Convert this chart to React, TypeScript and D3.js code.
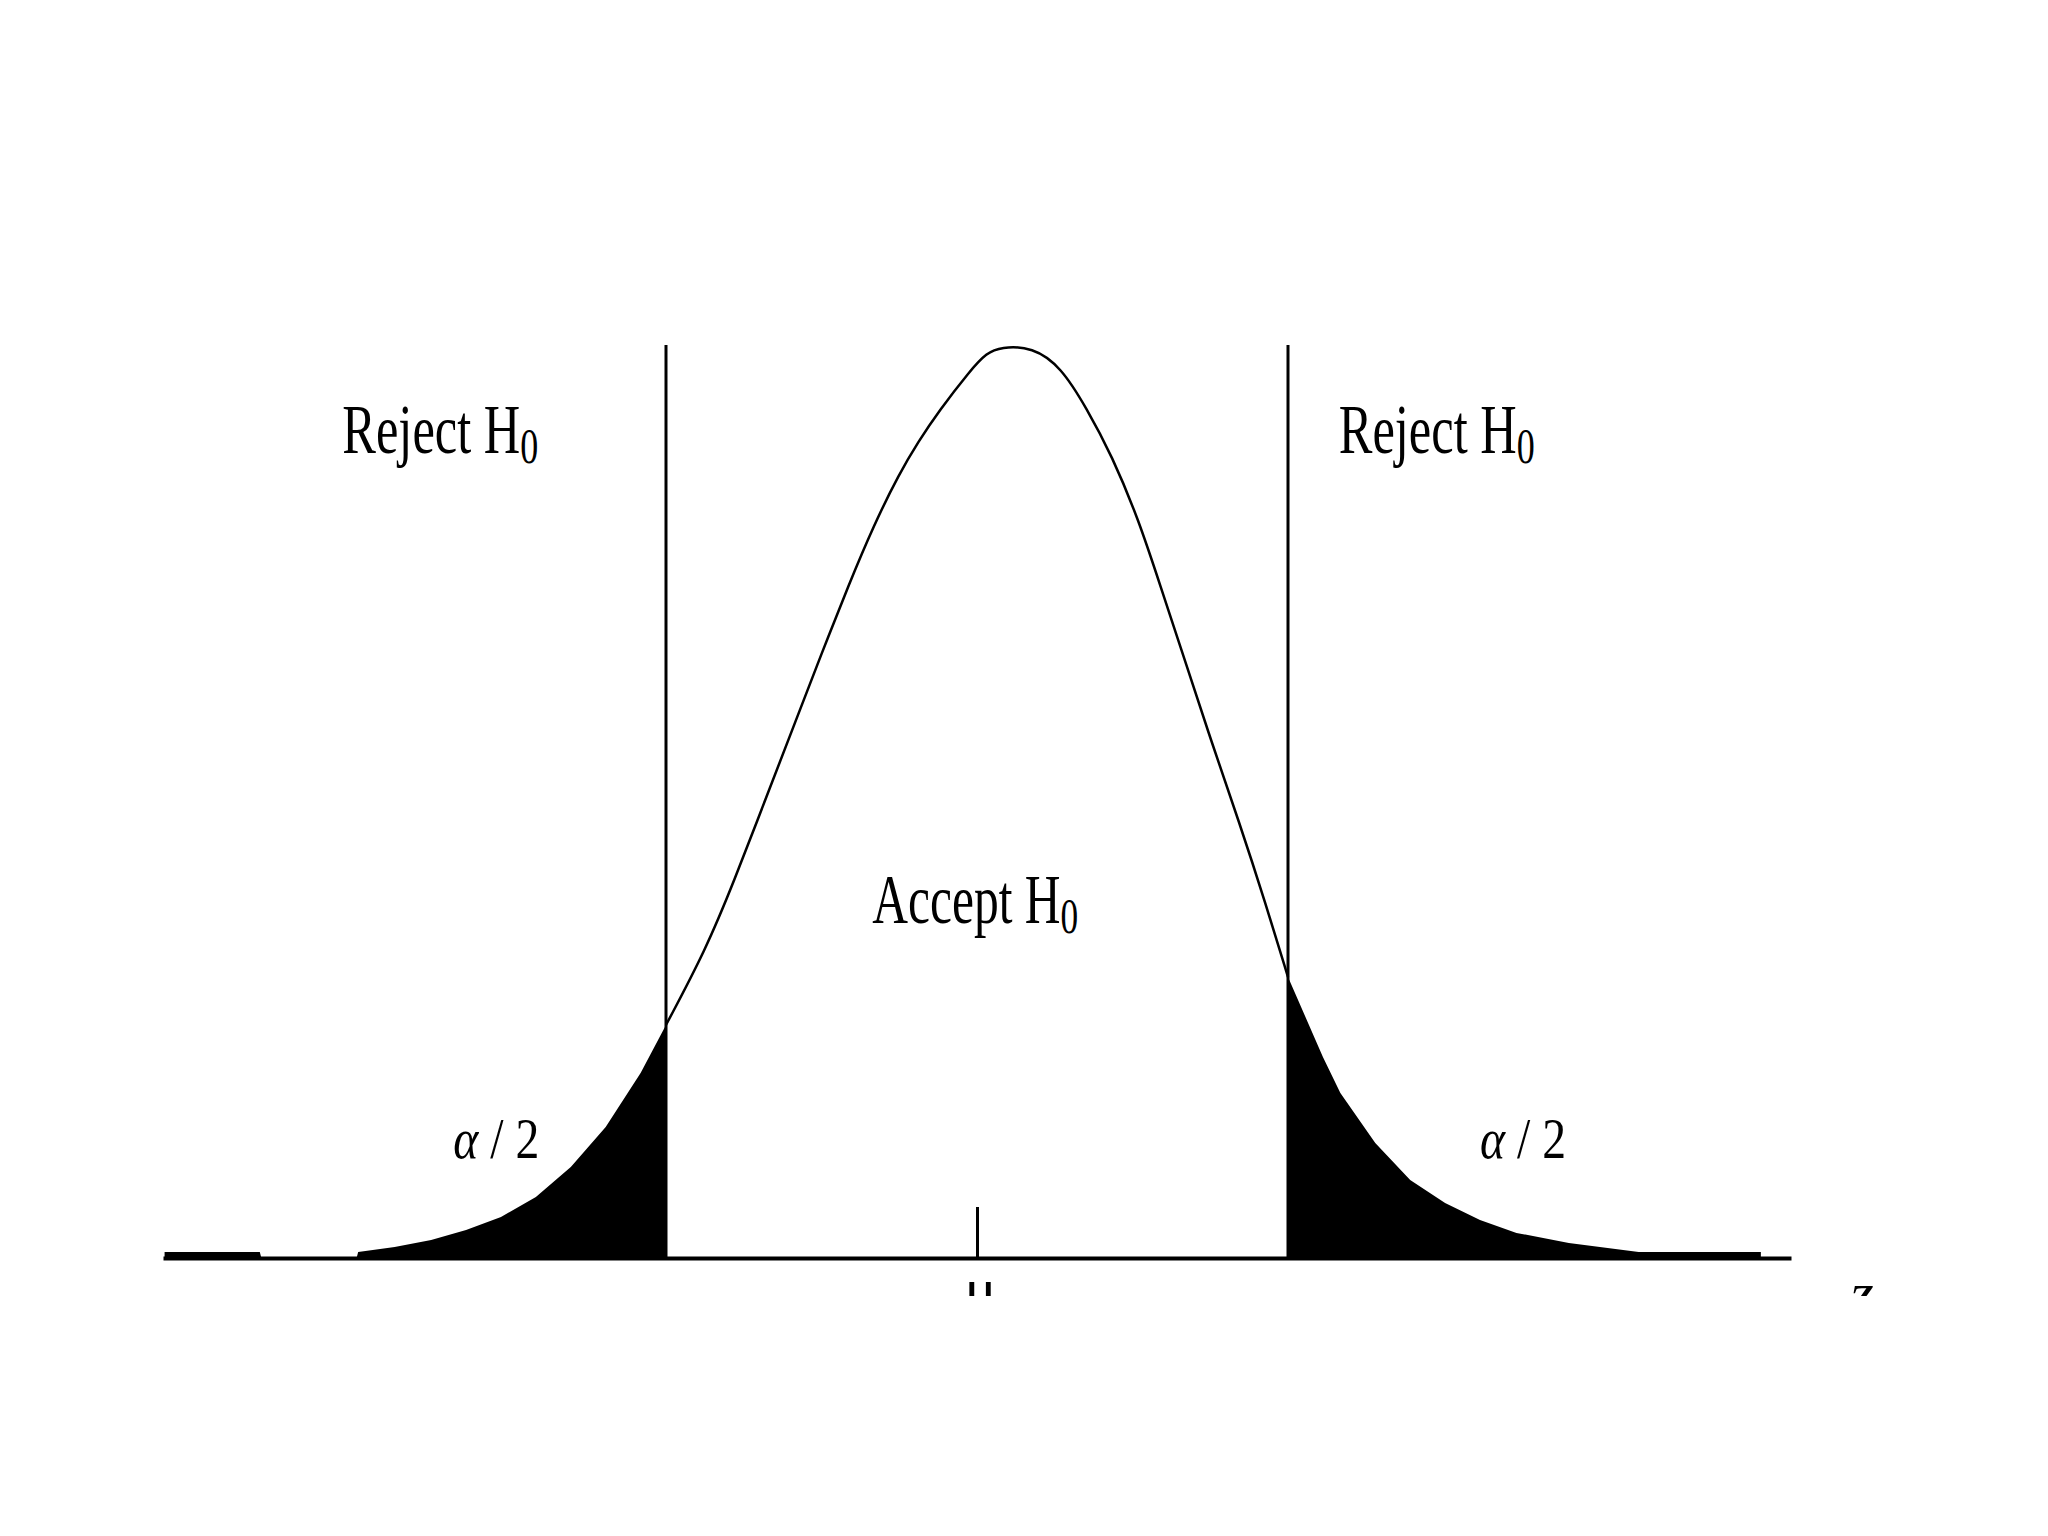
import React, { useEffect, useRef } from "react";
import { select, scaleLinear, area, line, axisBottom, curveBasis } from "d3";

// readings: [z, density]
const leftTail: [number, number][] = [
  [-5.12, 0.0026], [-4.52, 0.0026], [-4.51, 0], [-3.91, 0], [-3.9, 0.0026],
  [-3.67, 0.0048], [-3.44, 0.0079], [-3.22, 0.0123], [-3.0, 0.018],
  [-2.78, 0.0268], [-2.56, 0.0399], [-2.34, 0.0575], [-2.12, 0.0811], [-1.96, 0.1022]
];

const bodyCurve: [number, number][] = [
  [-1.96, 0.1022], [-1.71, 0.1351], [-1.53, 0.1654], [-1.33, 0.2018], [-1.14, 0.236],
  [-0.98, 0.265], [-0.81, 0.295], [-0.65, 0.3215], [-0.49, 0.344], [-0.37, 0.358],
  [-0.24, 0.3715], [-0.04, 0.3895], [0.06, 0.3969], [0.15, 0.3996], [0.35, 0.3996],
  [0.53, 0.3908], [0.69, 0.3728], [0.85, 0.352], [1.02, 0.3235], [1.15, 0.296],
  [1.32, 0.26], [1.48, 0.2259], [1.65, 0.1917], [1.82, 0.1553], [1.96, 0.1232]
];

const rightTail: [number, number][] = [
  [1.96, 0.1232], [2.07, 0.1057], [2.18, 0.0882], [2.29, 0.0724], [2.51, 0.0504],
  [2.73, 0.0342], [2.95, 0.0241], [3.17, 0.0167], [3.4, 0.011], [3.73, 0.0066],
  [4.17, 0.0026], [4.94, 0.0026]
];

const criticalValues = [-1.96, 1.96];
const meanTick = [0];
const rejectLabel = "Reject H";
const acceptLabel = "Accept H";
const subLabel = "0";
const meanLabel = "μ";
const axisLabel = "z";

const FONT = "'Liberation Serif', 'Times New Roman', serif";

export default function App() {
  const ref = useRef<SVGSVGElement>(null);

  useEffect(() => {
    const svg = select(ref.current);
    svg.selectAll("*").remove();

    const x = scaleLinear().domain([-5.13, 5.13]).range([163, 1791]);
    const y = scaleLinear().domain([0, 0.4]).range([1258, 346]);

    svg.append("rect").attr("width", 2048).attr("height", 1536).attr("fill", "#fff");

    svg.append("clipPath").attr("id", "cut")
      .append("rect").attr("x", 0).attr("y", 0).attr("width", 2048).attr("height", 1296);

    const g = svg.append("g").attr("clip-path", "url(#cut)");

    const tailArea = area<[number, number]>()
      .x(d => x(d[0]))
      .y0(y(0))
      .y1(d => y(d[1]));

    g.append("path").attr("d", tailArea(leftTail)).attr("fill", "#000");
    g.append("path").attr("d", tailArea(rightTail)).attr("fill", "#000");

    const bodyLine = line<[number, number]>()
      .x(d => x(d[0]))
      .y(d => y(d[1]))
      .curve(curveBasis);

    g.append("path")
      .attr("d", bodyLine(bodyCurve))
      .attr("fill", "none")
      .attr("stroke", "#000")
      .attr("stroke-width", 2.5);

    g.selectAll(".crit")
      .data(criticalValues)
      .enter()
      .append("line")
      .attr("x1", d => x(d))
      .attr("x2", d => x(d))
      .attr("y1", y(0.4) - 1)
      .attr("y2", y(0))
      .attr("stroke", "#000")
      .attr("stroke-width", 3);

    // baseline + mean tick
    const xAxis = axisBottom(x)
      .tickValues(meanTick)
      .tickFormat(() => meanLabel)
      .tickSize(-51)
      .tickSizeOuter(0)
      .tickPadding(8);

    const ax = g.append("g").attr("transform", `translate(0,${y(0)})`).call(xAxis);
    ax.select(".domain").attr("stroke", "#000").attr("stroke-width", 4);
    ax.selectAll(".tick line").attr("stroke", "#000").attr("stroke-width", 3);
    ax.selectAll(".tick text")
      .attr("fill", "#000")
      .attr("font-family", FONT)
      .attr("font-size", 60)
      .attr("dx", 3);

    g.append("text")
      .attr("x", 1862)
      .attr("y", 1313)
      .attr("text-anchor", "middle")
      .attr("font-family", FONT)
      .attr("font-style", "italic")
      .attr("font-size", 60)
      .text(axisLabel);

    const hLabel = (text: string, x0: number, base: number, len: number) => {
      const t = g.append("text")
        .attr("x", x0)
        .attr("y", base)
        .attr("font-family", FONT)
        .attr("font-size", 70)
        .attr("textLength", len)
        .attr("lengthAdjust", "spacingAndGlyphs");
      t.append("tspan").text(text);
      t.append("tspan").attr("font-size", 50).attr("dy", 10).text(subLabel);
    };

    hLabel(rejectLabel, x(-4.0), y(0.353), 196);
    hLabel(rejectLabel, x(2.28), y(0.353), 196);
    hLabel(acceptLabel, x(-0.66), y(0.147), 206);

    [-3.3, 3.17].forEach(z => {
      const t = g.append("text")
        .attr("x", x(z))
        .attr("y", y(0.0439))
        .attr("font-family", FONT)
        .attr("font-size", 58)
        .attr("textLength", 86)
        .attr("lengthAdjust", "spacingAndGlyphs");
      t.append("tspan").attr("font-style", "italic").text("α");
      t.append("tspan").text(" / 2");
    });
  }, []);

  return (
    <svg
      ref={ref}
      width={2048}
      height={1536}
      style={{ position: "absolute", left: 0, top: 0, display: "block" }}
    />
  );
}
